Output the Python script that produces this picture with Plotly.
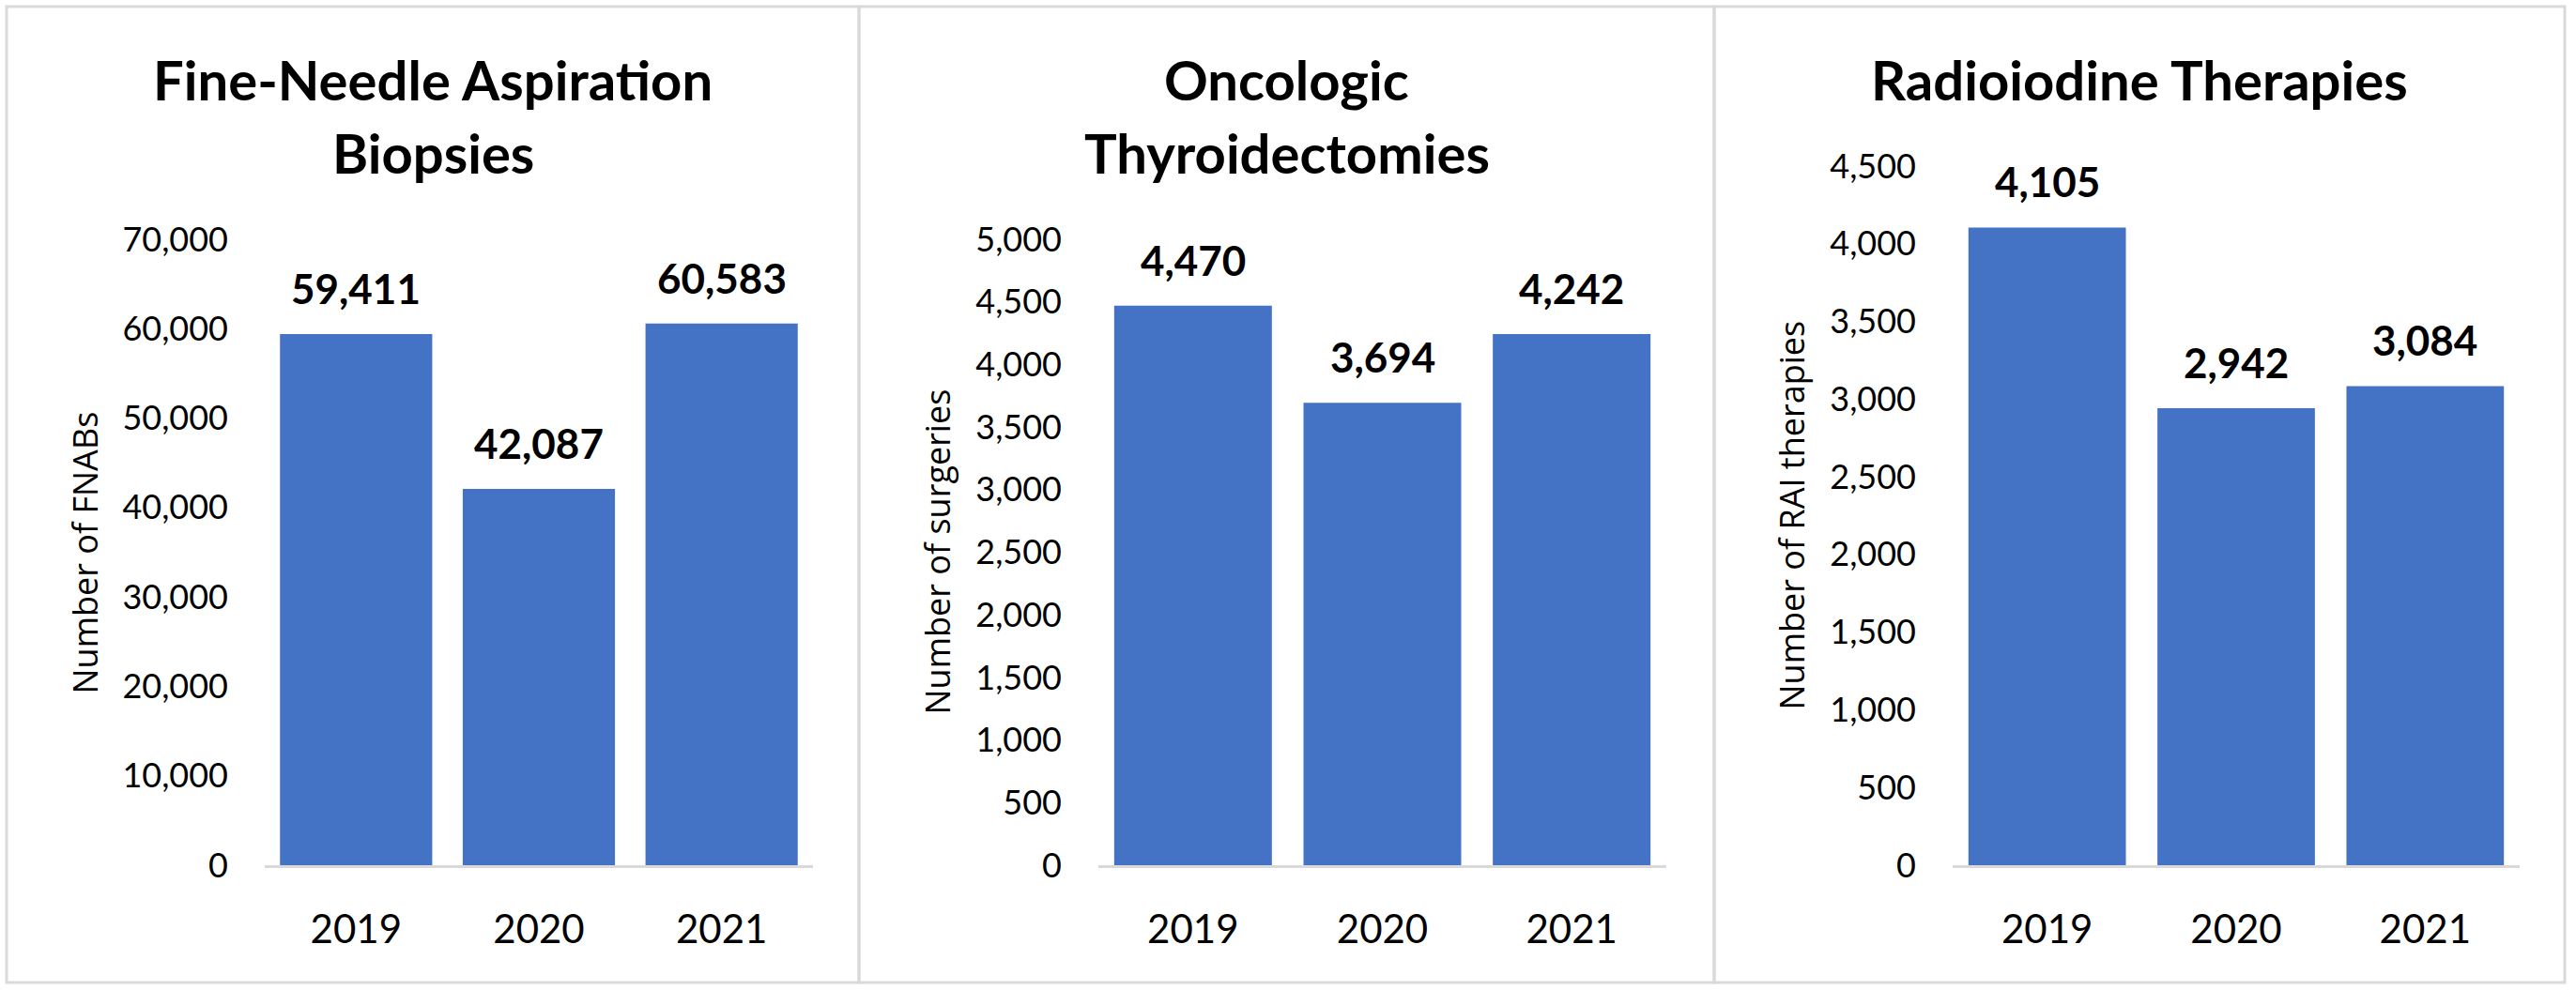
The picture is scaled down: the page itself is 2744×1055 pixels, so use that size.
import plotly.graph_objects as go

# ---------------- data ----------------
years = ["2019", "2020", "2021"]
fnab_counts = [59411, 42087, 60583]
surgery_counts = [4470, 3694, 4242]
rai_counts = [4105, 2942, 3084]

title_lines = [
    ["Fine-Needle Aspiration", "Biopsies"],
    ["Oncologic", "Thyroidectomies"],
    ["Radioiodine Therapies"],
]
y_titles = ["Number of FNABs", "Number of surgeries", "Number of RAI therapies"]
y_max = [70000, 5000, 4500]
y_step = [10000, 500, 500]
series = [fnab_counts, surgery_counts, rai_counts]

# ---------------- layout geometry (pixels) ----------------
W, H = 2744, 1055
BAR_COLOR = "#4472C4"
BORDER = "#D9D9D9"

plot_x = [(282, 866), (1170, 1775), (2080, 2684)]
plot_top = [255, 255, 177]
plot_bottom = 922
panel_x = [(7, 915), (915, 1826), (1826, 2732)]
panel_y = (7, 1047)
ytitle_x = [90, 998, 1908]
title_y = [84, 162]


def fx(p):
    return p / W


def fy(p):
    return 1 - p / H


fig = go.Figure()
annotations = []
shapes = []

for i in range(3):
    xa = "x" if i == 0 else f"x{i + 1}"
    ya = "y" if i == 0 else f"y{i + 1}"
    fig.add_trace(
        go.Bar(
            x=years,
            y=series[i],
            marker=dict(color=BAR_COLOR, line=dict(width=0)),
            xaxis=xa,
            yaxis=ya,
            showlegend=False,
            hoverinfo="x+y",
        )
    )
    tick_vals = list(range(0, y_max[i] + 1, y_step[i]))
    tick_text = [f"{v:,}" for v in tick_vals]
    xkey = "xaxis" if i == 0 else f"xaxis{i + 1}"
    ykey = "yaxis" if i == 0 else f"yaxis{i + 1}"
    fig.layout[xkey] = dict(
        type="category",
        categoryorder="array",
        categoryarray=years,
        range=[-0.5, len(years) - 0.5],
        domain=[fx(plot_x[i][0]), fx(plot_x[i][1])],
        anchor=ya,
        automargin=False,
        showline=True,
        linecolor=BORDER,
        linewidth=2.5,
        showgrid=False,
        zeroline=False,
        ticks="",
        tickfont=dict(family="Lato", size=42, color="#000000"),
        ticklabelstandoff=30,
        fixedrange=True,
    )
    fig.layout[ykey] = dict(
        domain=[fy(plot_bottom), fy(plot_top[i])],
        anchor=xa,
        automargin=False,
        range=[0, y_max[i]],
        tickvals=tick_vals,
        ticktext=tick_text,
        showline=False,
        showgrid=False,
        zeroline=False,
        ticks="",
        tickfont=dict(family="Lato", size=36, color="#000000"),
        ticklabelstandoff=38,
        fixedrange=True,
    )

    # data labels
    for k, v in enumerate(series[i]):
        annotations.append(
            dict(
                x=k,
                y=v,
                xref=xa,
                yref=ya,
                text=f"{v:,}",
                showarrow=False,
                xanchor="center",
                yanchor="bottom",
                yshift=21,
                font=dict(family="Lato", size=44, color="#000000", weight=700),
            )
        )

    # panel titles
    cx = (panel_x[i][0] + panel_x[i][1]) / 2
    for j, line in enumerate(title_lines[i]):
        annotations.append(
            dict(
                x=fx(cx),
                y=fy(title_y[j]),
                xref="paper",
                yref="paper",
                text=line,
                showarrow=False,
                xanchor="center",
                yanchor="middle",
                font=dict(family="Lato", size=58, color="#000000", weight=700),
            )
        )

    # y-axis titles
    annotations.append(
        dict(
            x=fx(ytitle_x[i]),
            y=fy((plot_top[i] + plot_bottom) / 2),
            xref="paper",
            yref="paper",
            text=y_titles[i],
            textangle=-90,
            showarrow=False,
            xanchor="center",
            yanchor="middle",
            font=dict(family="Open Sans", size=36, color="#000000"),
        )
    )

    # panel border
    shapes.append(
        dict(
            type="rect",
            xref="paper",
            yref="paper",
            x0=fx(panel_x[i][0]),
            x1=fx(panel_x[i][1]),
            y0=fy(panel_y[1]),
            y1=fy(panel_y[0]),
            line=dict(color=BORDER, width=3),
            fillcolor="rgba(0,0,0,0)",
            layer="below",
        )
    )

fig.update_layout(
    width=W,
    height=H,
    margin=dict(l=0, r=0, t=0, b=0, autoexpand=False),
    paper_bgcolor="#FFFFFF",
    plot_bgcolor="#FFFFFF",
    bargap=0.167,
    annotations=annotations,
    shapes=shapes,
    font=dict(family="Lato", color="#000000"),
)

fig.write_html(
    "out.html",
    config={"displayModeBar": False},
    post_script="document.body.style.margin='0';document.body.style.overflow='hidden';",
)
